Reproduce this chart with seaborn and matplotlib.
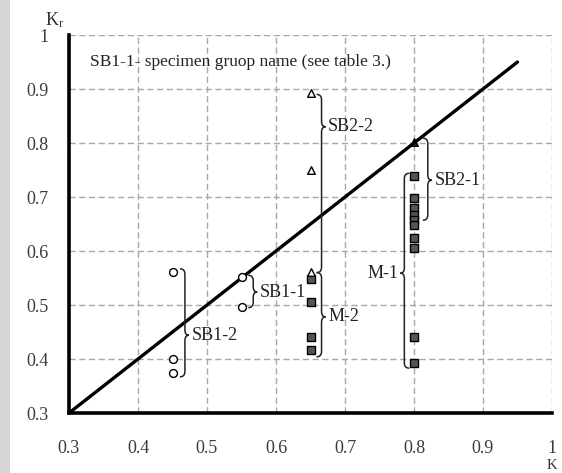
import matplotlib
matplotlib.use("Agg")
import matplotlib.pyplot as plt
from matplotlib.path import Path
from matplotlib.patches import PathPatch, Rectangle
import seaborn as sns
import pandas as pd
import numpy as np

# ---- data ----
circle_K = [0.45, 0.45, 0.45, 0.55, 0.55]
circle_Kr = [0.562, 0.400, 0.375, 0.552, 0.497]
triangle_K = [0.65, 0.65, 0.65]
triangle_Kr = [0.892, 0.750, 0.562]
filled_triangle_K = [0.80, 0.80]
filled_triangle_Kr = [0.802, 0.665]
square_K = [0.65, 0.65, 0.65, 0.65, 0.80, 0.80, 0.80, 0.80, 0.80, 0.80, 0.80, 0.80, 0.80, 0.80]
square_Kr = [0.548, 0.506, 0.441, 0.417, 0.738, 0.699, 0.679, 0.667, 0.657, 0.649, 0.624, 0.606, 0.441, 0.392]
line_K = [0.30, 0.95]
line_Kr = [0.30, 0.95]

x_ticks = [0.3, 0.4, 0.5, 0.6, 0.7, 0.8, 0.9, 1.0]
x_labels = ["0.3", "0.4", "0.5", "0.6", "0.7", "0.8", "0.9", "1"]
y_ticks = [0.3, 0.4, 0.5, 0.6, 0.7, 0.8, 0.9, 1.0]
y_labels = ["0.3", "0.4", "0.5", "0.6", "0.7", "0.8", "0.9", "1"]

# group braces: (label, x, top, bottom, tip, side)
groups = [
    ("SB1-2", 0.468, 0.567, 0.367, 0.444, 1),
    ("SB1-1", 0.567, 0.555, 0.495, 0.524, 1),
    ("SB2-2", 0.666, 0.890, 0.560, 0.830, 1),
    ("M-2", 0.666, 0.560, 0.404, 0.478, 1),
    ("SB2-1", 0.820, 0.809, 0.657, 0.731, 1),
    ("M-1", 0.786, 0.744, 0.383, 0.559, -1),
]
note_text = "SB1-1- specimen gruop name (see table 3.)"

sns.set_theme(style="white")
plt.rcParams["font.family"] = ["Liberation Serif", "DejaVu Serif"]
plt.rcParams["mathtext.fontset"] = "custom"
plt.rcParams["mathtext.rm"] = "Liberation Serif"
plt.rcParams["mathtext.it"] = "Liberation Serif:italic"

fig = plt.figure(figsize=(5.62, 4.73), dpi=100)
fig.patch.set_facecolor("white")
fig.patches.append(Rectangle((0, 0), 10 / 562, 1, transform=fig.transFigure,
                             facecolor="#d6d6d6", edgecolor="none", zorder=-10))
ax = fig.add_axes([69 / 562, 60 / 473, (552 - 69) / 562, (413 - 35) / 473])
ax.set_facecolor("white")

# grid
for v in x_ticks[1:]:
    ax.axvline(v, color="#a8a8a8", lw=1.0, dashes=(4.5, 2.5), zorder=0)
for v in y_ticks[1:]:
    ax.axhline(v, color="#a8a8a8", lw=1.0, dashes=(4.5, 2.5), zorder=0)

df_c = pd.DataFrame({"K": circle_K, "Kr": circle_Kr})
df_t = pd.DataFrame({"K": triangle_K, "Kr": triangle_Kr})
df_ft = pd.DataFrame({"K": filled_triangle_K, "Kr": filled_triangle_Kr})
df_s = pd.DataFrame({"K": square_K, "Kr": square_Kr})
sns.scatterplot(data=df_ft, x="K", y="Kr", ax=ax, marker="^", s=30,
                color="#333333", edgecolor="black", linewidth=1.0, zorder=2)
sns.scatterplot(data=df_s, x="K", y="Kr", ax=ax, marker="s", s=40,
                color="#555555", edgecolor="black", linewidth=1.0, zorder=4)
sns.scatterplot(data=df_t, x="K", y="Kr", ax=ax, marker="^", s=30,
                color="white", edgecolor="black", linewidth=1.0, zorder=5)
sns.scatterplot(data=df_c, x="K", y="Kr", ax=ax, marker="o", s=32,
                color="white", edgecolor="black", linewidth=1.0, zorder=4)

# trend line
sns.lineplot(x=line_K, y=line_Kr, ax=ax, color="black", lw=2.4, zorder=3)


def brace(x, top, bot, tip, side, w=0.0072, r=0.010):
    verts = [
        (x - side * w, top), (x, top), (x, top - r),
        (x, tip + r),
        (x, tip), (x + side * w * 0.8, tip),
        (x, tip), (x, tip - r),
        (x, bot + r),
        (x, bot), (x - side * w, bot),
    ]
    codes = [Path.MOVETO, Path.CURVE3, Path.CURVE3, Path.LINETO,
             Path.CURVE3, Path.CURVE3, Path.CURVE3, Path.CURVE3,
             Path.LINETO, Path.CURVE3, Path.CURVE3]
    ax.add_patch(PathPatch(Path(verts, codes), facecolor="none",
                           edgecolor="#222222", lw=1.1, zorder=6))


for label, x, top, bot, tip, side in groups:
    brace(x, top, bot, tip, side)
    if side > 0:
        ax.text(x + 0.0095, tip, label, ha="left", va="center", fontsize=13,
                color="#222222", zorder=7)
    else:
        ax.text(x - 0.0085, tip, label, ha="right", va="center", fontsize=13,
                color="#222222", zorder=7)

ax.text(0.331, 0.95, note_text, ha="left", va="center", fontsize=12.5,
        color="#222222")

ax.set_xlim(0.3, 1.0)
ax.set_ylim(0.3, 1.0)
ax.set_xticks(x_ticks)
ax.set_xticklabels(x_labels)
ax.set_yticks(y_ticks)
ax.set_yticklabels(y_labels)
ax.set_xticks(np.arange(0.32, 1.0, 0.02), minor=True)
ax.set_yticks(np.arange(0.32, 1.0, 0.02), minor=True)
ax.set_xlabel("")
ax.set_ylabel("")
ax.tick_params(axis="both", which="major", direction="inout", length=7, width=2,
               color="black", labelsize=13, labelcolor="#3a3a3a")
ax.tick_params(axis="x", which="major", pad=16)
ax.tick_params(axis="y", which="major", pad=11)
ax.tick_params(axis="both", which="minor", direction="in", length=3, width=1.5,
               color="black")
for s in ["top", "right"]:
    ax.spines[s].set_visible(False)
for s in ["left", "bottom"]:
    ax.spines[s].set_color("black")
    ax.spines[s].set_linewidth(2.6)

fig.text(55 / 562, 1 - 20 / 473, r"$\mathregular{K_r}$", ha="center", va="center",
         fontsize=13, color="#333333")
fig.text(552 / 562, 1 / 473, "K", ha="center", va="bottom", fontsize=10.5,
         color="#333333")

fig.savefig("out.png", dpi=100)
